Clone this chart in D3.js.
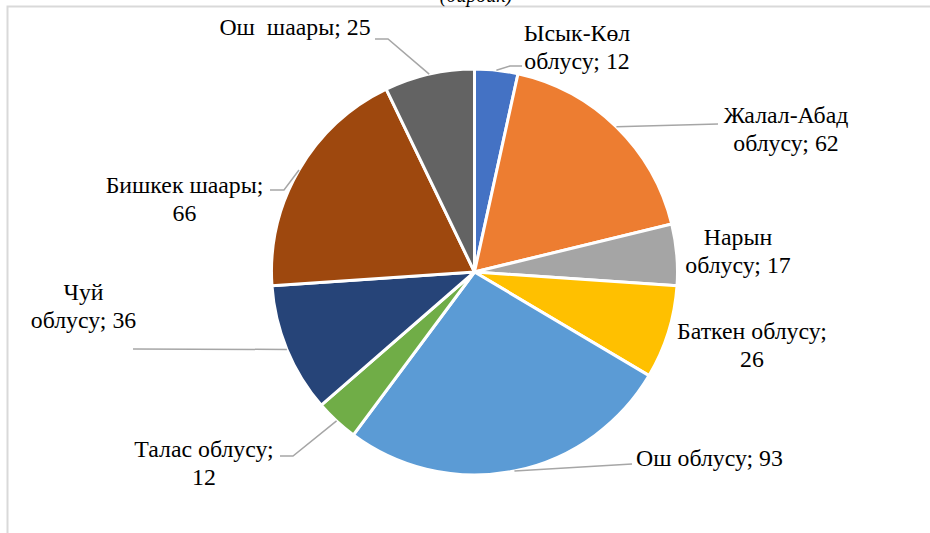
<!DOCTYPE html>
<html>
<head>
<meta charset="utf-8">
<script src="https://cdn.jsdelivr.net/npm/d3@7"></script>
<style>
  html, body { margin: 0; padding: 0; background: #fff; }
  svg { display: block; }
</style>
</head>
<body>
<svg id="chart" width="930" height="533"></svg>
<script>
// ---- data ----
const categories = ["Ысык-Көл облусу", "Жалал-Абад облусу", "Нарын облусу", "Баткен облусу",
                    "Ош облусу", "Талас облусу", "Чуй облусу", "Бишкек шаары", "Ош  шаары"];
const values = [12, 62, 17, 26, 93, 12, 36, 66, 25];
const labelLines = [
  ["Ысык-Көл", "облусу; 12"],
  ["Жалал-Абад", "облусу; 62"],
  ["Нарын", "облусу; 17"],
  ["Баткен облусу;", "26"],
  ["Ош облусу; 93"],
  ["Талас облусу;", "12"],
  ["Чуй", "облусу; 36"],
  ["Бишкек шаары;", "66"],
  ["Ош  шаары; 25"]
];
const colors = ["#4472C4", "#ED7D31", "#A5A5A5", "#FFC000", "#5B9BD5",
                "#70AD47", "#264478", "#9E480E", "#636363"];
const titleText = "(бирдик)";

// ---- layout (label anchor, first baseline; leader elbow points) ----
const labelLayout = [
  { x: 577, y: 41, leader: [[510, 66], [522, 66]] },
  { x: 786, y: 123, leader: [[718, 124]] },
  { x: 738, y: 245, leader: null },
  { x: 752, y: 339, leader: null },
  { x: 709.5, y: 466, leader: [[632, 464]] },
  { x: 204, y: 457, leader: [[293, 456], [280, 456]] },
  { x: 83.5, y: 300, leader: [[133, 349]] },
  { x: 184.5, y: 193, leader: [[284, 190], [270, 190]] },
  { x: 295, y: 35, leader: [[388, 39], [375, 39]] }
];

const W = 930, H = 533;
const cx = 474.5, cy = 272, R = 203;
const fontSize = 23.8, lineH = 27.5;
const FONT = "Liberation Serif";

const svg = d3.select("#chart");

// frame
svg.append("path")
  .attr("d", `M7.5,${H + 5} L7.5,6.5 L${W + 5},6.5`)
  .attr("fill", "none")
  .attr("stroke", "#d9d9d9")
  .attr("stroke-width", 2);

// title (cut at top, as in the source)
svg.append("text")
  .attr("x", 476).attr("y", 2)
  .attr("text-anchor", "middle")
  .attr("font-family", FONT)
  .attr("font-size", 20)
  .attr("font-style", "italic")
  .attr("fill", "#000")
  .text(titleText);

const pie = d3.pie().sort(null).value(d => d)(values);
const arc = d3.arc().innerRadius(0).outerRadius(R);
const edge = d3.arc().innerRadius(R).outerRadius(R);

const g = svg.append("g").attr("transform", `translate(${cx},${cy})`);
g.selectAll("path.slice")
  .data(pie)
  .join("path")
  .attr("class", "slice")
  .attr("d", arc)
  .attr("fill", (d, i) => colors[i])
  .attr("stroke", "#fff")
  .attr("stroke-width", 3)
  .attr("stroke-linejoin", "round");

// leader lines
const line = d3.line();
pie.forEach((d, i) => {
  const L = labelLayout[i];
  if (!L.leader) return;
  const c = edge.centroid(d);
  const pts = [[cx + c[0], cy + c[1]], ...L.leader];
  svg.append("path")
    .attr("d", line(pts))
    .attr("fill", "none")
    .attr("stroke", "#a6a6a6")
    .attr("stroke-width", 1.5);
});

// labels
labelLines.forEach((lines, i) => {
  const L = labelLayout[i];
  const t = svg.append("text")
    .attr("x", L.x).attr("y", L.y)
    .attr("text-anchor", "middle")
    .attr("font-family", FONT)
    .attr("font-size", fontSize)
    .attr("fill", "#000")
    .style("white-space", "pre");
  lines.forEach((s, j) => {
    t.append("tspan").attr("x", L.x).attr("y", L.y + j * lineH).text(s);
  });
});
</script>
</body>
</html>
